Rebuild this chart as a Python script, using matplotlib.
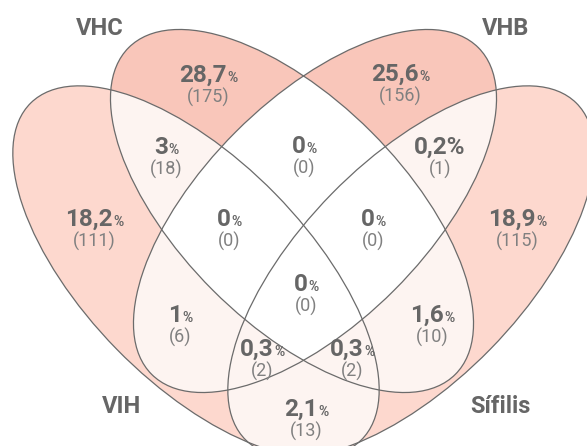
import numpy as np
import matplotlib.pyplot as plt
from matplotlib.patches import Ellipse

plt.rcParams['font.family'] = ['Roboto', 'DejaVu Sans']

# conjuntos do diagrama
sets = ['VIH', 'VHC', 'VHB', 'Sífilis']

# cada região = pertença a (VIH, VHC, VHB, Sífilis)
regions = [(1, 0, 0, 0), (0, 1, 0, 0), (0, 0, 1, 0), (0, 0, 0, 1),
           (1, 1, 0, 0), (0, 0, 1, 1), (0, 1, 1, 0), (1, 0, 1, 0),
           (0, 1, 0, 1), (1, 0, 0, 1), (1, 1, 1, 0), (0, 1, 1, 1),
           (1, 0, 1, 1), (1, 1, 0, 1), (1, 1, 1, 1)]
pct = [18.2, 28.7, 25.6, 18.9, 3, 0.2, 0, 1, 1.6, 2.1, 0, 0, 0.3, 0.3, 0]
counts = [111, 175, 156, 115, 18, 1, 0, 6, 10, 13, 0, 0, 2, 2, 0]

# posição dos textos (centro x, linha de base y) em pixels
text_pos = [(94, 226), (208, 82), (400, 81), (517, 226),
            (166, 154), (440, 154), (304, 153), (180, 322),
            (432, 322), (306, 416), (229, 226), (373, 226),
            (262, 356), (352, 356), (306, 291)]
set_label_pos = [(122, 413), (100, 35), (506, 35), (500, 413)]

# elipses: centro, largura, altura, ângulo (eixo y invertido)
ellipses = [((196, 271.5), 472, 222, 45.6),
            ((292, 211), 462, 224, 45),
            ((315, 211), 462, 224, -45),
            ((411, 271.5), 472, 222, -45.6)]

W, H = 587, 446
text_col = '#666666'
count_col = '#808080'
line_col = '#6b6b6b'


def shade(v):
    if v >= 20:
        return '#F9C6BA'
    elif v >= 10:
        return '#FDD9CF'
    elif v > 0:
        return '#FEF4F1'
    return '#FFFFFF'


def inside(ell, X, Y):
    (cx, cy), w, h, ang = ell
    t = np.deg2rad(ang)
    dx, dy = X - cx, Y - cy
    u = dx * np.cos(t) + dy * np.sin(t)
    v = -dx * np.sin(t) + dy * np.cos(t)
    return (u / (w / 2)) ** 2 + (v / (h / 2)) ** 2 <= 1


fig = plt.figure(figsize=(W / 100, H / 100), dpi=100)
ax = fig.add_axes([0, 0, 1, 1])
ax.set_xlim(0, W)
ax.set_ylim(H, 0)
ax.axis('off')

# preenchimento das regiões
ss = 3
xs = (np.arange(W * ss) + 0.5) / ss
ys = (np.arange(H * ss) + 0.5) / ss
X, Y = np.meshgrid(xs, ys)
code = np.zeros(X.shape, dtype=int)
for i, ell in enumerate(ellipses):
    code += inside(ell, X, Y).astype(int) << i

lut = np.ones((16, 4))
for reg, v in zip(regions, pct):
    k = sum(b << i for i, b in enumerate(reg))
    lut[k] = plt.matplotlib.colors.to_rgba(shade(v))
ax.imshow(lut[code], extent=(0, W, H, 0), interpolation='antialiased', aspect='auto')

for (c, w, h, ang) in ellipses:
    ax.add_patch(Ellipse(c, w, h, angle=ang, fill=False, ec=line_col, lw=0.9))

renderer = fig.canvas.get_renderer()

# textos das regiões: número grande + "%" pequeno, centrados em conjunto
for (x, y), v, n in zip(text_pos, pct, counts):
    num = f'{v:g}'.replace('.', ',')
    if v == 0.2:
        ax.text(x, y, num + '%', ha='center', va='baseline', fontsize=17.5,
                fontweight='bold', color=text_col)
    else:
        t1 = ax.text(0, y, num, ha='left', va='baseline', fontsize=17.5,
                     fontweight='bold', color=text_col)
        t2 = ax.text(0, y, '%', ha='left', va='baseline', fontsize=10,
                     fontweight='bold', color=text_col)
        w1 = t1.get_window_extent(renderer).width
        w2 = t2.get_window_extent(renderer).width
        left = x - (w1 + w2) / 2
        t1.set_x(left)
        t2.set_x(left + w1 + 0.5)
    ax.text(x, y + 21, f'({n})', ha='center', va='baseline', fontsize=13,
            color=count_col)

for (x, y), name in zip(set_label_pos, sets):
    ax.text(x, y, name, ha='center', va='baseline', fontsize=17,
            fontweight='bold', color=text_col)

plt.savefig('out.png', dpi=100)
